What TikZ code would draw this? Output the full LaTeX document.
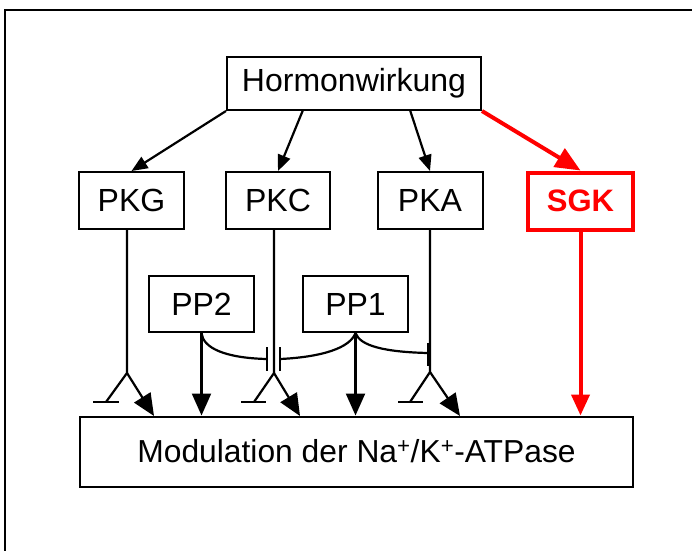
\documentclass[tikz,border=0pt]{standalone}
\usepackage{fontspec}
\setmainfont{Liberation Sans}
\usetikzlibrary{arrows.meta}
\definecolor{sgkred}{RGB}{255,0,0}
\begin{document}
\begin{tikzpicture}[x=1pt,y=-1pt,
  box/.style={draw, line width=2pt, inner sep=0pt, font=\fontsize{32}{38}\selectfont},
  ln/.style={line width=2.2pt},
  hbar/.style={line width=2.2pt},
  arr/.style={ln, -{Triangle[length=16pt,width=13pt]}},
  barr/.style={ln, -{Triangle[length=22pt,width=19pt]}},
  redln/.style={line width=4pt, draw=sgkred},
]
\useasboundingbox (0,0) rectangle (692,550);
\clip (0,0) rectangle (692,550);
% frame
\draw[line width=2pt] (5,600) -- (5,10) -- (720,10);

% nodes
\node[box, minimum width=254pt, minimum height=53pt] (hw) at (354,83.5) {Hormonwirkung};
\node[box, minimum width=105pt, minimum height=57pt] (pkg) at (131.5,200.5) {PKG};
\node[box, minimum width=104pt, minimum height=57pt] (pkc) at (278,200.5) {PKC};
\node[box, minimum width=105pt, minimum height=57pt] (pka) at (430,200.5) {PKA};
\node[box, draw=sgkred, line width=4pt, text=sgkred, minimum width=105pt, minimum height=57pt,
      font=\fontsize{31}{36}\selectfont\bfseries] (sgk) at (580.5,201) {SGK};
\node[box, minimum width=105pt, minimum height=56pt] (pp2) at (201.5,304) {PP2};
\node[box, minimum width=105pt, minimum height=56pt] (pp1) at (355.5,304) {PP1};
\node[box, minimum width=553pt, minimum height=70pt, font=\fontsize{31.8}{38}\selectfont] (mod) at (356.5,451.5)
      {Modulation der Na\textsuperscript{+}/K\textsuperscript{+}-ATPase};

% hormone arrows
\coordinate (h1) at (303,110);
\coordinate (h2) at (410,110);
\draw[arr] (hw.south west) -- (pkg.north);
\draw[arr] (h1) -- (pkc.north);
\draw[arr] (h2) -- (pka.north);
\draw[redln, -{Triangle[length=25pt,width=21pt]}, sgkred] (hw.south east) -- (sgk.north);

% branch points
\coordinate (gtop) at (127,229);
\coordinate (gb) at (127,373);
\coordinate (gl) at (106,402);
\coordinate (ga) at (154,416);
\coordinate (ctop) at (274,229);
\coordinate (cb) at (274,373);
\coordinate (cl) at (254,402);
\coordinate (ca) at (300,416);
\coordinate (ab) at (430,372);
\coordinate (al) at (410,402);
\coordinate (aa) at (460,416);

% PKG
\draw[ln] (gtop) -- (gb) -- (gl);
\draw[hbar] (93,402) -- (119,402);
\draw[barr] (gb) -- (ga);
% PKC
\draw[ln] (ctop) -- (cb) -- (cl);
\draw[hbar] (241,402) -- (266,402);
\draw[barr] (cb) -- (ca);
% PKA
\draw[ln] (pka.south) -- (ab) -- (al);
\draw[hbar] (398,402) -- (423,402);
\draw[barr] (ab) -- (aa);

% PP2
\coordinate (pp2end) at (267,359);
\draw[barr] (pp2.south) -- (pp2.south |- mod.north);
\draw[ln] (pp2.south) .. controls (203,348) and (225,358) .. (pp2end);
\draw[hbar] (267,347) -- (267,371);
% PP1
\coordinate (pp1l) at (280,359);
\coordinate (pp1r) at (428,353);
\draw[barr] (pp1.south) -- (pp1.south |- mod.north);
\draw[ln] (pp1.south) .. controls (350,348) and (322,357) .. (pp1l);
\draw[hbar] (280,347) -- (280,371);
\draw[ln] (pp1.south) .. controls (360,346) and (385,352) .. (pp1r);
\draw[line width=3.2pt] (429,343) -- (429,366);

% SGK
\draw[redln, -{Triangle[length=21pt,width=18pt]}, sgkred] (sgk.south) -- (sgk.south |- mod.north);
\end{tikzpicture}
\end{document}
